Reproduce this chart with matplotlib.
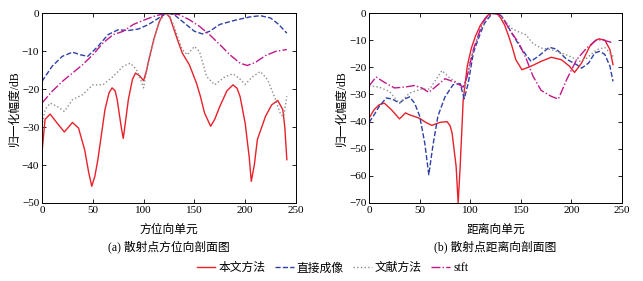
import matplotlib
matplotlib.use("Agg")
from matplotlib import pyplot as plt

plt.rcParams['font.family'] = ['Liberation Serif', 'Noto Sans CJK SC']
plt.rcParams['font.size'] = 8

# (a) 方位向剖面
a_red_x = [0, 3, 8, 15, 22, 30, 36, 42, 46, 49, 52, 55, 62, 66, 69, 72, 74, 78, 80, 82, 85, 89, 92, 96, 100, 103, 106, 110, 115, 118, 122, 126, 130, 134, 138, 145, 152, 156, 160, 166, 170, 175, 182, 188, 192, 195, 200, 204, 206, 209, 212, 220, 226, 232, 237, 239, 241]
a_red_y = [-36.8, -28, -26.6, -29, -31.3, -28.8, -30.3, -36, -42, -45.6, -43, -38.6, -25.4, -21, -19.7, -20.5, -22.8, -30, -33, -29, -22.8, -17.5, -15.8, -16.5, -17.8, -15, -11.4, -7, -2.6, -0.9, 0, -1.2, -4.4, -7.5, -10.5, -13.6, -18.4, -22, -26.3, -29.8, -28, -24.6, -20.5, -18.9, -19.8, -22, -29, -38, -44.3, -40, -33.3, -27.2, -24.2, -23, -25.4, -30, -38.6]
a_blue_x = [0, 10, 20, 30, 38, 45, 55, 65, 75, 85, 95, 105, 115, 122, 130, 140, 150, 158, 165, 175, 190, 205, 215, 225, 233, 241]
a_blue_y = [-18, -14, -11.4, -10.3, -11, -11.4, -8.8, -5.7, -4.4, -4.6, -4.2, -3, -1.3, 0, -0.4, -2.6, -4.8, -5.5, -4.8, -3, -1.9, -1, -0.7, -1.3, -3, -5.3]
a_grey_x = [0, 3, 8, 15, 22, 30, 40, 50, 60, 70, 80, 87, 93, 97, 100, 105, 112, 116, 122, 126, 130, 138, 143, 150, 155, 162, 170, 180, 188, 195, 200, 207, 215, 222, 230, 235, 238, 241]
a_grey_y = [-29.8, -25.4, -23.7, -24.6, -25.9, -22.8, -21.5, -18.9, -18.9, -16.7, -14, -13.2, -14.9, -17.5, -19.7, -12.3, -5.3, -2, 0, -0.9, -3.5, -9.6, -11, -8.8, -10.1, -16.7, -18.9, -16.8, -16, -17.4, -18.8, -16.8, -15.4, -17.5, -22.8, -26.8, -27.2, -21.9]
a_stft_x = [0, 10, 20, 30, 40, 50, 60, 70, 80, 90, 100, 110, 122, 135, 145, 155, 165, 175, 185, 195, 202, 210, 220, 230, 241]
a_stft_y = [-23.7, -20.6, -18, -15.8, -13.6, -11, -7.9, -5.7, -4.8, -3, -1.9, -0.9, 0, -0.4, -1.75, -3.5, -5.7, -8.3, -11, -13.2, -13.8, -13, -11.2, -10.1, -9.6]

# (b) 距离向剖面
b_red_x = [0, 5, 10, 15, 22, 30, 36, 40, 50, 56, 62, 70, 77, 80, 82, 86, 88, 90, 93, 97, 101, 105, 110, 115, 118, 122, 127, 130, 134, 138, 141, 145, 151, 160, 170, 180, 190, 198, 203, 210, 218, 223, 227, 233, 238, 241]
b_red_y = [-38.7, -35.6, -33.8, -33.2, -35.6, -39, -36.8, -37.5, -38.8, -40.3, -41.4, -40.3, -40, -41.5, -44.2, -56.5, -70, -56.5, -32, -19.6, -13, -8.6, -4.5, -1.8, -0.6, 0, -0.5, -1.8, -4.5, -8.6, -12, -17.2, -20.9, -19.6, -17.8, -16.3, -17.2, -19.6, -21.9, -18.4, -12.3, -10.3, -9.5, -10, -13.5, -19]
b_blue_x = [0, 5, 10, 17, 23, 30, 35, 40, 45, 50, 55, 59, 63, 68, 75, 83, 90, 94, 98, 103, 110, 114, 118, 121, 125, 128, 131, 135, 140, 150, 160, 168, 178, 185, 195, 205, 210, 217, 223, 228, 233, 238, 241]
b_blue_y = [-40.3, -37.5, -34.4, -31.3, -31.7, -33.2, -31.7, -30.9, -33.2, -38, -47.9, -59.6, -49, -38, -30.9, -26.4, -26, -31.6, -25.8, -14.7, -7.4, -3.8, -1.8, -0.5, 0, -0.3, -1.2, -3.5, -6.8, -12.9, -17.8, -15.7, -12.6, -13.3, -17, -19, -20.3, -18.4, -14.7, -14.1, -15.3, -19.6, -25.2]
b_grey_x = [0, 10, 20, 30, 40, 52, 60, 72, 80, 90, 95, 100, 110, 116, 122, 127, 132, 140, 148, 155, 162, 170, 180, 190, 200, 208, 215, 225, 233, 241]
b_grey_y = [-26.8, -27.3, -28.9, -33.2, -29.5, -28, -28, -21.2, -24, -26.4, -27.3, -17.2, -6.1, -1.8, 0, -0.4, -1.8, -5.5, -7, -8, -11.3, -12.9, -13.5, -14.7, -16.2, -17.8, -16.6, -13.5, -12.7, -16]
b_stft_x = [0, 7, 15, 25, 35, 45, 52, 59, 65, 75, 85, 93, 97, 103, 112, 117, 123, 128, 132, 140, 148, 155, 162, 170, 180, 187, 195, 205, 215, 225, 232, 241]
b_stft_y = [-26.8, -23.6, -25.5, -27.6, -27.3, -26.7, -27.6, -29.2, -27.4, -24.2, -25.5, -27.3, -23.3, -13.5, -3.7, -1, 0, -0.4, -1.8, -6.8, -11.1, -16.6, -23.3, -28.5, -30.7, -31.7, -24.7, -17.2, -12.9, -9.8, -10, -11]

labels = ['本文方法', '直接成像', '文献方法', 'stft']
colors = ['#e8202a', '#2f3fa8', '#8c8c8c', '#c0188c']
styles = ['-', '--', ':', '-.']

fig = plt.figure(figsize=(6.43, 2.81), dpi=100)
ax1 = fig.add_axes([0.0653, 0.2776, 0.395, 0.676])
ax2 = fig.add_axes([0.574, 0.2776, 0.3935, 0.676])

panels = [
    (ax1, [(a_red_x, a_red_y), (a_blue_x, a_blue_y), (a_grey_x, a_grey_y), (a_stft_x, a_stft_y)], -50, '方位向单元', '(a) 散射点方位向剖面图'),
    (ax2, [(b_red_x, b_red_y), (b_blue_x, b_blue_y), (b_grey_x, b_grey_y), (b_stft_x, b_stft_y)], -70, '距离向单元', '(b) 散射点距离向剖面图'),
]
for ax, series, ymin, xl, cap in panels:
    for (x, y), c, ls, lb in zip(series, colors, styles, labels):
        ax.plot(x, y, color=c, linestyle=ls, linewidth=1.0, label=lb)
    ax.set_xlim(0, 250)
    ax.set_ylim(ymin, 0)
    ax.set_xticks(range(0, 251, 50))
    ax.set_yticks(range(ymin, 1, 10))
    ax.tick_params(direction='in', top=True, right=True, length=3, width=0.6, labelsize=8, pad=2)
    for sp in ax.spines.values():
        sp.set_linewidth(0.7)
    ax.set_ylabel('归一化幅度/dB', fontsize=8.5, labelpad=1)
    ax.set_xlabel(xl + '\n' + cap, fontsize=8.5, labelpad=6.5, linespacing=1.45)

handles, lbls = ax1.get_legend_handles_labels()
fig.legend(handles, lbls, loc='center', bbox_to_anchor=(0.517, 0.045), ncol=4, frameon=False,
           fontsize=8.5, handlelength=1.6, columnspacing=0.8, handletextpad=0.25)

fig.savefig('out.png', dpi=100)
